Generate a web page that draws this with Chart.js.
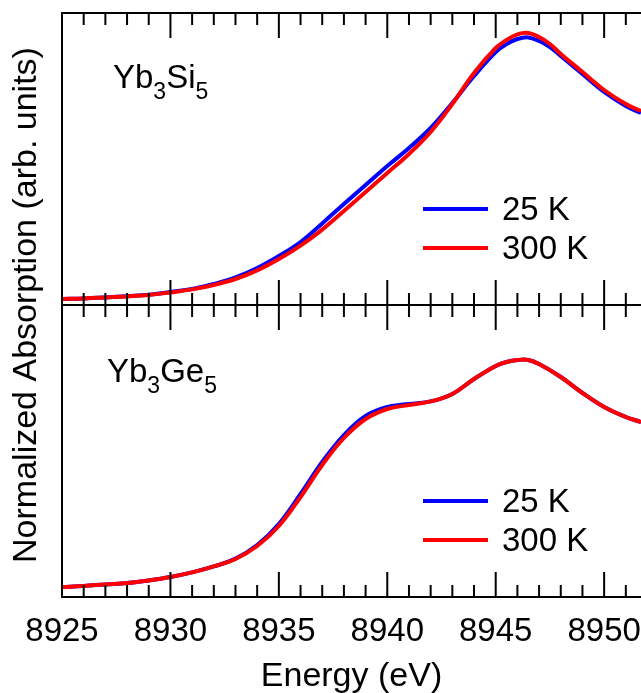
<!DOCTYPE html>
<html>
<head>
<meta charset="utf-8">
<script src="https://cdn.jsdelivr.net/npm/chart.js@4"></script>
<style>
  body { margin: 0; background: #fff; }
  canvas { display: block; }
</style>
</head>
<body>
<canvas id="xanes" width="641" height="693"></canvas>
<script>
// Yb L3-edge XANES, two compounds, 25 K and 300 K
const energySi = [8925, 8926, 8927, 8928, 8929, 8930, 8931, 8932, 8933, 8934, 8935, 8936, 8937, 8938, 8939, 8940,
  8941, 8942, 8943, 8944, 8945, 8945.5, 8946, 8946.5, 8947, 8947.5, 8948, 8949, 8950, 8951, 8951.7];
const si25K = [0.030, 0.033, 0.038, 0.044, 0.051, 0.065, 0.080, 0.105, 0.138, 0.185, 0.245, 0.315, 0.408, 0.505, 0.600, 0.695,
  0.785, 0.885, 1.010, 1.145, 1.265, 1.305, 1.330, 1.338, 1.320, 1.290, 1.245, 1.155, 1.065, 0.995, 0.960];
const si300K = [0.030, 0.033, 0.038, 0.043, 0.050, 0.063, 0.078, 0.100, 0.130, 0.173, 0.230, 0.297, 0.377, 0.470, 0.565, 0.660,
  0.755, 0.865, 1.005, 1.160, 1.285, 1.325, 1.353, 1.360, 1.340, 1.305, 1.255, 1.165, 1.075, 1.005, 0.970];

const energyGe = [8925, 8926, 8927, 8928, 8929, 8930, 8931, 8932, 8933, 8934, 8935, 8936, 8937, 8938, 8939, 8940,
  8941, 8942, 8943, 8944, 8945, 8945.5, 8946, 8946.5, 8947, 8948, 8949, 8950, 8951, 8951.7];
const ge25K = [0.050, 0.055, 0.063, 0.070, 0.083, 0.100, 0.123, 0.153, 0.192, 0.260, 0.365, 0.515, 0.675, 0.810, 0.905, 0.950,
  0.965, 0.978, 1.015, 1.090, 1.155, 1.175, 1.185, 1.185, 1.165, 1.100, 1.020, 0.950, 0.900, 0.875];
const ge300K = [0.050, 0.055, 0.063, 0.070, 0.083, 0.100, 0.123, 0.153, 0.190, 0.255, 0.355, 0.500, 0.660, 0.795, 0.890, 0.940,
  0.960, 0.978, 1.015, 1.090, 1.155, 1.175, 1.185, 1.185, 1.165, 1.100, 1.020, 0.950, 0.900, 0.875];

const seriesLabels = ["25 K", "300 K"];
const seriesColors = ["#0000ff", "#ff0000"];
const xTickLabels = [8925, 8930, 8935, 8940, 8945, 8950];
const panelNames = [["Yb", "3", "Si", "5"], ["Yb", "3", "Ge", "5"]];

const FONT = '"Liberation Sans", Arial, sans-serif';

function toPoints(xs, ys) {
  return xs.map((x, i) => ({ x: x, y: ys[i] }));
}

function line(ctx, x1, y1, x2, y2) {
  ctx.beginPath();
  ctx.moveTo(x1, y1);
  ctx.lineTo(x2, y2);
  ctx.stroke();
}

// formula like Yb3Si5, odd parts are subscripts
function drawFormula(ctx, parts, x, y) {
  parts.forEach((p, i) => {
    const sub = i % 2 === 1;
    ctx.font = (sub ? "23px " : "33px ") + FONT;
    ctx.fillText(p, x, sub ? y + 11 : y);
    x += ctx.measureText(p).width;
  });
}

const framePlugin = {
  id: "frame",
  afterDraw(chart) {
    const { ctx, chartArea: a, scales } = chart;
    const xs = scales.x;
    const panels = [scales.yTop, scales.yBot];
    ctx.save();
    ctx.strokeStyle = "#000";
    ctx.fillStyle = "#000";
    ctx.lineWidth = 2;

    // axes lines
    line(ctx, a.left, a.top - 1, a.left, a.bottom + 1);
    panels.forEach(p => {
      line(ctx, a.left, p.top, a.right, p.top);
      line(ctx, a.left, p.bottom, a.right, p.bottom);
    });

    // inward ticks, minor every 1 eV, major every 5 eV
    for (let e = 8926; e <= xs.max; e++) {
      const px = xs.getPixelForValue(e);
      const len = e % 5 === 0 ? 25 : 12;
      panels.forEach(p => {
        line(ctx, px, p.top, px, p.top + len);
        line(ctx, px, p.bottom, px, p.bottom - len);
      });
    }

    // tick labels
    ctx.font = "33px " + FONT;
    ctx.textAlign = "center";
    ctx.textBaseline = "alphabetic";
    xTickLabels.forEach(v => {
      ctx.fillText(String(v), xs.getPixelForValue(v), a.bottom + 44);
    });

    // axis titles
    ctx.font = "34px " + FONT;
    ctx.fillText("Energy (eV)", (a.left + a.right) / 2, a.bottom + 89);
    ctx.save();
    ctx.translate(36, (a.top + a.bottom) / 2);
    ctx.rotate(-Math.PI / 2);
    ctx.fillText("Normalized Absorption (arb. units)", 0, 0);
    ctx.restore();

    // panel names and legends
    ctx.textAlign = "left";
    drawFormula(ctx, panelNames[0], 113, panels[0].top + 75);
    drawFormula(ctx, panelNames[1], 107, panels[1].top + 77);

    panels.forEach(p => {
      seriesLabels.forEach((lab, i) => {
        const ly = p.top + 196 + i * 39;
        ctx.strokeStyle = seriesColors[i];
        ctx.lineWidth = 4;
        line(ctx, 423, ly, 488, ly);
        ctx.font = "33px " + FONT;
        ctx.fillText(lab, 502, ly + 11);
      });
    });
    ctx.restore();
  }
};

function dataset(label, xs, ys, axis, color, order) {
  return {
    label: label,
    data: toPoints(xs, ys),
    yAxisID: axis,
    borderColor: color,
    backgroundColor: color,
    borderWidth: 4,
    pointRadius: 0,
    tension: 0.4,
    order: order
  };
}

new Chart(document.getElementById("xanes"), {
  type: "line",
  data: {
    datasets: [
      dataset(seriesLabels[0], energySi, si25K, "yTop", seriesColors[0], 1),
      dataset(seriesLabels[1], energySi, si300K, "yTop", seriesColors[1], 0),
      dataset(seriesLabels[0], energyGe, ge25K, "yBot", seriesColors[0], 1),
      dataset(seriesLabels[1], energyGe, ge300K, "yBot", seriesColors[1], 0)
    ]
  },
  options: {
    responsive: false,
    animation: false,
    events: [],
    layout: { padding: { left: 62, top: 13, right: 0, bottom: 96 } },
    plugins: { legend: { display: false }, tooltip: { enabled: false } },
    scales: {
      x: { type: "linear", min: 8925, max: 8951.7, display: false },
      // stacked panels: the last one listed ends up on top
      yBot: { type: "linear", min: 0, max: 1.46, display: false, stack: "panels", stackWeight: 1 },
      yTop: { type: "linear", min: 0, max: 1.46, display: false, stack: "panels", stackWeight: 1 }
    }
  },
  plugins: [framePlugin]
});
</script>
</body>
</html>
